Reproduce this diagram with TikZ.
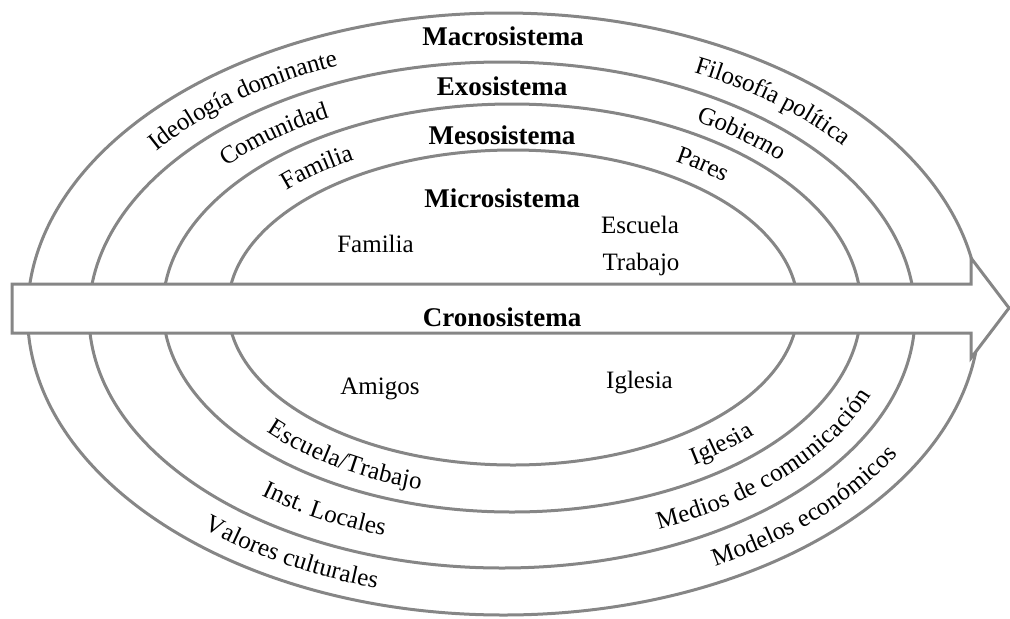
\documentclass[tikz,border=0pt]{standalone}
\usepackage{fontspec}
\setmainfont{Liberation Serif}
\usetikzlibrary{decorations.text}
\definecolor{ringgray}{RGB}{134,134,134}
\newcommand\lblfont{\fontsize{12.5}{15}\selectfont}
\newcommand\sysfont{\fontsize{13.5}{16}\selectfont\bfseries}

\begin{document}
\begin{tikzpicture}[x=0.5pt,y=0.5pt,
  ring/.style={draw=ringgray,line width=1.5pt},
  sys/.style={font=\sysfont,inner sep=0pt},
  lbl/.style={font=\lblfont,inner sep=0pt},
  curved/.style={decorate,decoration={text along path,text={|\lblfont|#1},text align=center,raise=-4pt}}]
  \useasboundingbox (0,0) rectangle (1010,618);
  % band centres
  \coordinate (cA) at (503,303.5);
  \coordinate (cB) at (507,306.5);
  \coordinate (cC) at (512.5,310);
  % rings
  \draw[ring] (503.5,304) ellipse[x radius=476,y radius=301];
  \draw[ring] (502,303) ellipse[x radius=413,y radius=253];
  \draw[ring] (512,310) ellipse[x radius=349,y radius=204];
  \draw[ring] (513,310.5) ellipse[x radius=285,y radius=157.5];
  % time arrow
  \draw[ring,fill=white,line join=miter] (12,285) -- (971,285) -- (971,260) -- (1009,310)
    -- (971,360) -- (971,334) -- (12,334) -- cycle;
  % system names
  \node[sys] (macro) at (503,582) {Macrosistema};
  \node[sys] (exo) at (502,532) {Exosistema};
  \node[sys] (meso) at (502,483) {Mesosistema};
  \node[sys] (micro) at (502,420) {Microsistema};
  \node[sys] (crono) at (502,301) {Cronosistema};
  % microsystem
  \node[lbl] (familia) at (375.5,374.5) {Familia};
  \node[lbl] (escuela) at (640,393.5) {Escuela};
  \node[lbl] (trabajo) at (641,354) {Trabajo};
  \node[lbl] (amigos) at (380,229.5) {Amigos};
  \node[lbl] (iglesia) at (639.5,235.5) {Iglesia};
  % macrosystem band
  \path[curved={Ideología dominante}] ([shift={(cA)}]150:444.5 and 277) arc[start angle=150,end angle=106,x radius=444.5,y radius=277];
  \path[curved={Filosofía política}] ([shift={(cA)}]70:444.5 and 277) arc[start angle=70,end angle=32,x radius=444.5,y radius=277];
  \path[curved={Valores culturales}] ([shift={(cA)}]221.5:444.5 and 277) arc[start angle=221.5,end angle=259.5,x radius=444.5,y radius=277];
  \path[curved={Modelos económicos}] ([shift={(cA)}]292.5:444.5 and 277) arc[start angle=292.5,end angle=338.5,x radius=444.5,y radius=277];
  % exosystem band
  \path[curved={Comunidad}] ([shift={(cB)}]146:381 and 228.5) arc[start angle=146,end angle=112,x radius=381,y radius=228.5];
  \path[curved={Gobierno}] ([shift={(cB)}]66:381 and 228.5) arc[start angle=66,end angle=36,x radius=381,y radius=228.5];
  \path[curved={Inst. Locales}] ([shift={(cB)}]223.5:381 and 228.5) arc[start angle=223.5,end angle=257.5,x radius=381,y radius=228.5];
  \path[curved={Medios de comunicación}] ([shift={(cB)}]287:381 and 228.5) arc[start angle=287,end angle=349,x radius=381,y radius=228.5];
  % mesosystem band
  \path[curved={Familia}] ([shift={(cC)}]143:317 and 181) arc[start angle=143,end angle=115,x radius=317,y radius=181];
  \path[curved={Pares}] ([shift={(cC)}]64.5:317 and 181) arc[start angle=64.5,end angle=40.5,x radius=317,y radius=181];
  \path[curved={Escuela/Trabajo}] ([shift={(cC)}]213:317 and 181) arc[start angle=213,end angle=259,x radius=317,y radius=181];
  \path[curved={Iglesia}] ([shift={(cC)}]298:317 and 181) arc[start angle=298,end angle=326,x radius=317,y radius=181];
\end{tikzpicture}
\end{document}
